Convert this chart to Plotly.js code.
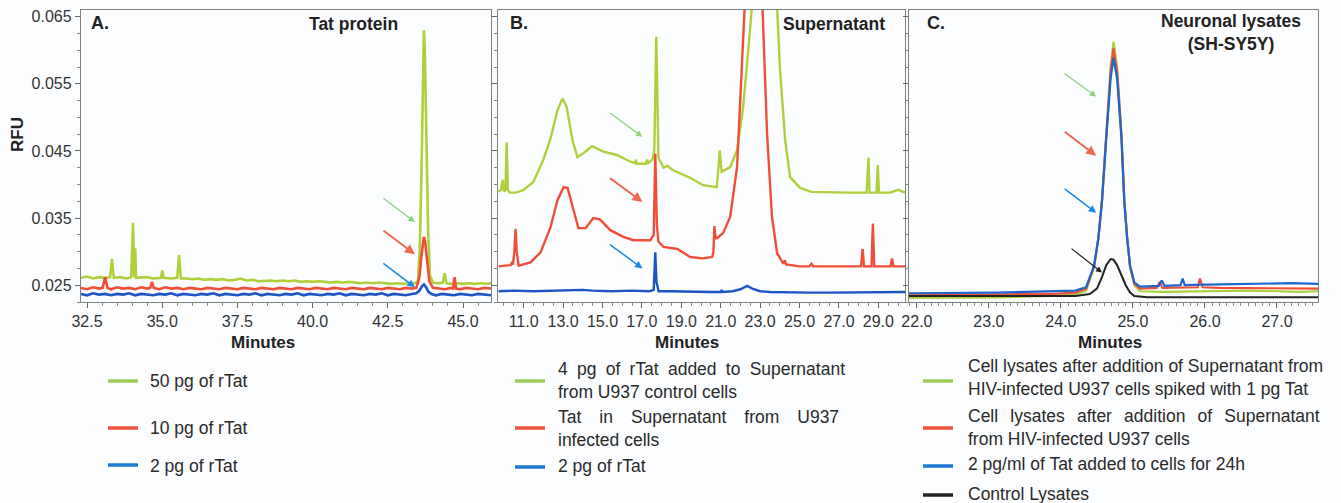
<!DOCTYPE html>
<html>
<head>
<meta charset="utf-8">
<script src="https://cdn.plot.ly/plotly-3.0.1.min.js"></script>
<style>
html,body{margin:0;padding:0;background:#fcfdfe;}
#chart{width:1341px;height:503px;}
</style>
</head>
<body>
<div id="chart"></div>
<script>
// ---------- Panel A: Tat protein ----------
const aGreenX = [32.3,32.5,32.7,32.9,33.1,33.27,33.33,33.39,33.6,33.8,33.97,34.03,34.07,34.1,34.13,34.3,34.5,34.7,34.9,34.96,35.0,35.05,35.3,35.5,35.56,35.62,35.8,36.0,36.2,36.4,36.6,36.8,37.0,37.2,37.4,37.6,37.8,38.0,38.2,38.4,38.6,38.8,39.0,39.2,39.4,39.6,39.8,40.0,40.2,40.4,40.6,40.8,41.0,41.2,41.4,41.6,41.8,42.0,42.2,42.4,42.6,42.8,43.0,43.2,43.4,43.5,43.56,43.62,43.67,43.7,43.73,43.78,43.84,43.9,44.0,44.2,44.33,44.39,44.45,44.6,44.8,45.0,45.2,45.4,45.6,45.8,45.93];
const aGreenY = [0.0261,0.0263,0.0260,0.0262,0.0261,0.0262,0.0289,0.0261,0.0262,0.0260,
  0.0262,0.0343,0.0262,0.0305,0.0261,0.0261,0.0262,0.0260,0.0261,0.0261,
  0.0272,0.0261,0.0260,0.0261,0.0295,0.0260,0.0260,0.0259,0.0260,0.0258,
  0.0259,0.0258,0.0259,0.0257,0.0258,0.0260,0.0257,0.0258,0.0256,0.0257,
  0.0257,0.0256,0.0257,0.0256,0.0257,0.0255,0.0256,0.0255,0.0256,0.0255,
  0.0254,0.0255,0.0254,0.0255,0.0254,0.0253,0.0254,0.0253,0.0254,0.0253,
  0.0252,0.0253,0.0252,0.0253,0.0253,0.0256,0.0300,0.0420,0.0560,0.0630,
  0.0600,0.0480,0.0330,0.0265,0.0254,0.0253,0.0254,0.0268,0.0253,0.0252,
  0.0253,0.0252,0.0253,0.0252,0.0253,0.0252,0.0253];

const aRedX = [32.3,32.5,32.7,32.9,33.02,33.1,33.18,33.3,33.5,33.7,33.9,34.1,34.3,34.5,34.6,34.66,34.72,34.9,35.1,35.3,35.5,35.7,35.9,36.1,36.3,36.5,36.7,36.9,37.1,37.3,37.5,37.7,37.9,38.1,38.3,38.5,38.7,38.9,39.1,39.3,39.5,39.7,39.9,40.1,40.3,40.5,40.7,40.9,41.1,41.3,41.5,41.7,41.9,42.1,42.3,42.5,42.7,42.9,43.1,43.3,43.45,43.55,43.62,43.67,43.7,43.74,43.8,43.88,44.0,44.2,44.4,44.6,44.67,44.72,44.77,44.9,45.1,45.3,45.5,45.7,45.93];
const aRedY = [0.0246,0.0244,0.0247,0.0245,0.0246,0.0262,0.0246,0.0244,0.0247,0.0245,
  0.0246,0.0244,0.0247,0.0245,0.0246,0.0255,0.0246,0.0244,0.0247,0.0245,
  0.0246,0.0244,0.0246,0.0245,0.0244,0.0246,0.0245,0.0244,0.0246,0.0245,
  0.0244,0.0246,0.0245,0.0244,0.0246,0.0245,0.0244,0.0246,0.0245,0.0244,
  0.0246,0.0245,0.0244,0.0246,0.0245,0.0244,0.0246,0.0245,0.0244,0.0246,
  0.0245,0.0244,0.0246,0.0245,0.0244,0.0246,0.0245,0.0244,0.0246,0.0245,
  0.0246,0.0262,0.0295,0.0316,0.0322,0.0315,0.0285,0.0256,0.0246,0.0245,
  0.0244,0.0246,0.0245,0.0262,0.0245,0.0244,0.0246,0.0245,0.0244,0.0246,0.0245];

const aBlueX = [32.3,32.5,32.7,32.9,33.1,33.3,33.5,33.7,33.9,34.1,34.3,34.5,34.7,34.9,35.1,35.3,35.5,35.7,35.9,36.1,36.3,36.5,36.7,36.9,37.1,37.3,37.5,37.7,37.9,38.1,38.3,38.5,38.7,38.9,39.1,39.3,39.5,39.7,39.9,40.1,40.3,40.5,40.7,40.9,41.1,41.3,41.5,41.7,41.9,42.1,42.3,42.5,42.7,42.9,43.1,43.3,43.45,43.55,43.63,43.7,43.77,43.85,43.95,44.1,44.3,44.5,44.7,44.9,45.1,45.3,45.5,45.7,45.93];
const aBlueY = [0.0237,0.0235,0.0238,0.0236,0.0237,0.0235,0.0237,0.0236,0.0238,0.0235,
  0.0237,0.0236,0.0235,0.0237,0.0236,0.0238,0.0235,0.0237,0.0236,0.0235,
  0.0237,0.0236,0.0238,0.0235,0.0237,0.0236,0.0235,0.0237,0.0236,0.0238,
  0.0235,0.0237,0.0236,0.0235,0.0237,0.0236,0.0238,0.0235,0.0237,0.0236,
  0.0235,0.0237,0.0236,0.0238,0.0235,0.0237,0.0236,0.0235,0.0237,0.0236,
  0.0238,0.0235,0.0237,0.0236,0.0235,0.0237,
  0.0238,0.0242,0.0248,0.0251,0.0247,0.0240,0.0237,
  0.0235,0.0237,0.0236,0.0235,0.0237,0.0236,0.0235,0.0237,0.0236,0.0235];

// ---------- Panel B: Supernatant ----------
const bGreenX = [9.73,9.85,9.94,10.0,10.08,10.14,10.2,10.3,10.6,11.0,11.5,12.0,12.37,12.72,12.97,13.18,13.48,13.73,14.05,14.47,15.05,15.73,16.42,16.65,16.7,16.75,17.2,17.27,17.33,17.53,17.63,17.7,17.73,17.77,17.84,18.1,18.3,18.54,19.0,19.45,20.1,20.8,20.9,20.95,21.05,21.48,21.83,22.14,22.4,22.6,23.0,23.2,23.5,23.86,24.0,24.27,24.52,25.03,25.6,26.5,27.5,28.4,28.5,28.55,28.9,28.97,29.03,29.6,30.0,30.35];
const bGreenY = [0.0389,0.0392,0.0407,0.0390,0.0392,0.0463,0.0392,0.0388,0.0388,0.0392,
  0.0404,0.0437,0.0469,0.0511,0.0528,0.0516,0.0466,0.0441,0.0447,0.0457,
  0.0449,0.0444,0.0434,0.0432,0.0437,0.0431,0.0431,0.0437,0.0432,0.0437,
  0.0450,0.0600,0.0620,0.0560,0.0440,0.0425,0.0428,0.0422,0.0416,0.0410,
  0.0399,0.0396,0.0430,0.0451,0.0419,0.0426,0.0451,0.0516,0.0601,0.0680,
  0.0850,0.0880,0.0800,0.0665,0.0575,0.0466,0.0411,0.0395,0.0389,0.0388,
  0.0388,0.0388,0.0440,0.0388,0.0388,0.0429,0.0388,0.0388,0.0392,0.0388];

const bRedX = [9.73,10.2,10.34,10.4,10.46,10.53,10.59,10.65,10.75,11.35,11.86,12.37,12.72,13.03,13.23,13.53,13.78,14.14,14.54,14.87,15.4,16.06,16.57,17.43,17.6,17.68,17.76,17.84,18.1,18.8,19.45,20.1,20.57,20.63,20.68,20.74,20.82,21.13,21.48,21.83,22.08,22.24,22.5,22.7,22.9,23.1,23.35,23.6,23.86,24.17,24.25,24.32,25.0,25.5,25.6,25.7,26.5,27.5,28.12,28.2,28.27,28.65,28.72,28.79,29.62,29.69,29.76,30.35];
const bRedY = [0.0278,0.0279,0.0280,0.0283,0.0281,0.0300,0.0334,0.0300,0.0279,0.0284,
  0.0299,0.0337,0.0377,0.0396,0.0395,0.0362,0.0335,0.0335,0.0350,0.0348,
  0.0332,0.0322,0.0317,0.0317,0.0325,0.0446,0.0340,0.0315,0.0307,0.0304,
  0.0292,0.0290,0.0292,0.0300,0.0338,0.0320,0.0320,0.0328,0.0352,0.0426,
  0.0575,0.0680,0.0900,0.0950,0.0900,0.0680,0.0477,0.0352,0.0298,0.0282,
  0.0287,0.0281,0.0278,0.0278,0.0282,0.0278,0.0278,0.0278,0.0278,0.0304,
  0.0278,0.0278,0.0342,0.0278,0.0278,0.0290,0.0278,0.0278];

const bBlueX = [9.73,10.5,11.5,12.5,13.5,14.0,14.5,15.5,16.5,17.4,17.6,17.68,17.74,17.85,18.5,19.5,20.5,21.0,21.05,21.1,21.6,22.0,22.34,22.6,23.0,23.5,24.5,25.5,26.5,27.5,28.5,29.5,30.35];
const bBlueY = [0.0241,0.0242,0.0241,0.0242,0.0243,0.0243,0.0242,0.0241,0.0242,0.0241,
  0.0243,0.0299,0.0255,0.0241,0.0241,0.0240,0.0240,0.0240,0.0243,0.0240,
  0.0241,0.0244,0.0249,0.0245,0.0241,0.0240,0.0239,0.0239,0.0239,0.0239,
  0.0240,0.0239,0.0240];

// ---------- Panel C: Neuronal lysates ----------
const cGreenX = [21.89,22.3,22.7,23.1,23.5,23.9,24.2,24.35,24.46,24.52,24.57,24.63,24.69,24.73,24.78,24.84,24.88,24.92,24.96,25.02,25.1,25.4,25.8,26.2,26.6,27.0,27.3,27.57];
const cGreenY = [0.0231,0.0231,0.0232,0.0232,0.0233,0.0234,0.0236,0.0242,0.0277,0.0320,0.0377,0.0477,0.0575,0.0613,0.0575,0.0477,0.0377,0.0320,0.0277,0.0250,0.0241,0.0240,0.0241,0.0241,0.0242,0.0241,0.0240,0.0241];

const cRedX = [21.89,22.3,22.7,23.1,23.5,23.9,24.2,24.35,24.46,24.52,24.57,24.63,24.69,24.73,24.78,24.84,24.88,24.92,24.96,25.02,25.1,25.33,25.37,25.41,25.8,25.9,25.93,25.97,26.2,26.6,27.0,27.3,27.57];
const cRedY = [0.0235,0.0235,0.0236,0.0236,0.0237,0.0237,0.0239,0.0245,0.0278,0.0320,0.0376,0.0474,0.0568,0.0603,0.0568,0.0474,0.0376,0.0320,0.0278,0.0252,0.0245,0.0246,0.0255,0.0246,0.0247,0.0247,0.0260,0.0247,0.0246,0.0246,0.0245,0.0245,0.0245];

const cBlueX = [21.89,22.3,22.7,23.1,23.5,23.9,24.2,24.35,24.46,24.52,24.57,24.63,24.69,24.73,24.78,24.84,24.88,24.92,24.96,25.02,25.1,25.36,25.4,25.44,25.66,25.69,25.72,26.0,26.4,26.8,27.2,27.57];
const cBlueY = [0.0238,0.0238,0.0239,0.0239,0.0240,0.0241,0.0242,0.0247,0.0279,0.0320,0.0375,0.0470,0.0558,0.0589,0.0558,0.0470,0.0375,0.0320,0.0279,0.0254,0.0248,0.0249,0.0257,0.0249,0.0250,0.0260,0.0250,0.0251,0.0252,0.0252,0.0253,0.0252];

const cBlackX = [21.89,22.3,22.7,23.1,23.5,23.9,24.2,24.4,24.5,24.57,24.63,24.69,24.73,24.78,24.84,24.9,24.96,25.02,25.2,25.6,26.0,26.4,26.8,27.2,27.57];
const cBlackY = [0.0234,0.0234,0.0233,0.0233,0.0233,0.0233,0.0234,0.0237,0.0245,0.0262,0.0280,0.0289,0.0288,0.0280,0.0265,0.0250,0.0239,0.0234,0.0232,0.0232,0.0232,0.0233,0.0232,0.0232,0.0232];

// ---------- Labels ----------
const panelLetters = ['A.', 'B.', 'C.'];
const panelTitles = ['Tat protein', 'Supernatant', 'Neuronal lysates<br>(SH-SY5Y)'];
const xTitle = 'Minutes';
const yTitle = 'RFU';
const legendA = ['50 pg of rTat', '10 pg of rTat', '2 pg of rTat'];
const legendB = ['4 pg of rTat added to Supernatant<br>from U937 control cells',
                 'Tat in Supernatant from U937<br>infected cells',
                 '2 pg of rTat'];
const legendC = ['Cell lysates after addition of Supernatant from<br>HIV-infected U937 cells spiked with 1 pg Tat',
                 'Cell lysates after addition of Supernatant<br>from HIV-infected U937 cells',
                 '2 pg/ml of Tat added to cells for 24h',
                 'Control Lysates'];

// ---------- Build ----------
const W = 1341, H = 503;
const fx = p => p / W;
const fy = p => 1 - p / H;

const GREEN = '#aed03c', RED = '#f04e38', BLUE = '#1d55c4', BLUE_C = '#1e66cc', BLACK = '#222222';
const LG_GREEN = '#9ccd5c', LG_RED = '#f0533d', LG_BLUE = '#1b7ad2';

function tr(x, y, xa, ya, color, w) {
  return {x: x, y: y, xaxis: xa, yaxis: ya, type: 'scatter', mode: 'lines',
          line: {color: color, width: w}, hoverinfo: 'skip', showlegend: false};
}
const data = [
  tr(aGreenX, aGreenY, 'x', 'y', GREEN, 2.6),
  tr(aRedX, aRedY, 'x', 'y', RED, 2.6),
  tr(aBlueX, aBlueY, 'x', 'y', BLUE, 2.6),
  tr(bGreenX, bGreenY, 'x2', 'y2', GREEN, 2.4),
  tr(bRedX, bRedY, 'x2', 'y2', RED, 2.4),
  tr(bBlueX, bBlueY, 'x2', 'y2', BLUE, 2.4),
  tr(cGreenX, cGreenY, 'x3', 'y3', GREEN, 2.2),
  tr(cRedX, cRedY, 'x3', 'y3', RED, 2.2),
  tr(cBlueX, cBlueY, 'x3', 'y3', BLUE_C, 2.2),
  tr(cBlackX, cBlackY, 'x3', 'y3', BLACK, 2.0)
];

const FONT = 'Liberation Sans, Arial, sans-serif';
const yDom = [fy(302), fy(10)];
const yRange = [0.0225, 0.0660];

function xax(dom, range, tick0, dtick, minor) {
  return {domain: dom, range: range, tick0: tick0, dtick: dtick, tickformat: '.1f',
          showline: true, mirror: true, linecolor: '#808080', linewidth: 1.2,
          ticks: 'outside', ticklen: 5, tickwidth: 1, tickcolor: '#666',
          minor: {ticks: 'outside', ticklen: 3, tickcolor: '#888', dtick: minor},
          showgrid: false, zeroline: false, automargin: false, fixedrange: true,
          tickfont: {family: FONT, size: 16, color: '#333'}};
}
function yax(anchor, labels) {
  return {domain: yDom, range: yRange, anchor: anchor, tick0: 0.025, dtick: 0.01,
          tickformat: '.3f', showticklabels: labels,
          showline: true, mirror: true, linecolor: '#808080', linewidth: 1.2,
          ticks: 'outside', ticklen: 5, tickwidth: 1, tickcolor: '#666',
          minor: {ticks: 'outside', ticklen: 3, tickcolor: '#888', dtick: 0.0025},
          showgrid: false, zeroline: false, automargin: false, fixedrange: true,
          tickfont: {family: FONT, size: 16, color: '#333'}};
}

const annotations = [];
const shapes = [];
function txt(text, x, y, opts) {
  annotations.push(Object.assign({text: text, x: fx(x), y: fy(y), xref: 'paper', yref: 'paper',
    showarrow: false, xanchor: 'center', yanchor: 'middle',
    font: {family: FONT, size: 17.5, color: '#2a2a2a'}}, opts || {}));
}
const bold = s => '<b>' + s + '</b>';

// panel letters & titles
txt(bold(panelLetters[0]), 89, 23, {xanchor: 'left', font: {family: FONT, size: 18, color: '#222'}});
txt(bold(panelLetters[1]), 508, 23, {xanchor: 'left', font: {family: FONT, size: 18, color: '#222'}});
txt(bold(panelLetters[2]), 925, 23, {xanchor: 'left', font: {family: FONT, size: 18, color: '#222'}});
txt(bold(panelTitles[0]), 353, 24, {font: {family: FONT, size: 17.5, color: '#222'}});
txt(bold(panelTitles[1]), 834, 24, {font: {family: FONT, size: 17.5, color: '#222'}});
txt(bold('Neuronal lysates') + '<br>' + bold('(SH-SY5Y)'), 1231, 32, {font: {family: FONT, size: 17.5, color: '#222'}});

// axis titles
txt(bold(xTitle), 263, 342, {font: {family: FONT, size: 17, color: '#222'}});
txt(bold(xTitle), 687, 342, {font: {family: FONT, size: 17, color: '#222'}});
txt(bold(xTitle), 1110, 342, {font: {family: FONT, size: 17, color: '#222'}});
txt(bold(yTitle), 17, 135, {textangle: -90, font: {family: FONT, size: 17, color: '#222'}});

// arrows
function arrow(xref, yref, x, y, color, w, ax, ay) {
  annotations.push({x: x, y: y, xref: xref, yref: yref, text: '', showarrow: true,
    ax: ax, ay: ay, arrowhead: 2, arrowsize: 1, arrowwidth: w, arrowcolor: color, standoff: 0});
}
arrow('x', 'y', 43.40, 0.0344, '#8fd27e', 1.3, -33, -25);
arrow('x', 'y', 43.40, 0.0296, '#f06a52', 2.0, -33, -25);
arrow('x', 'y', 43.40, 0.0247, '#1c8ae0', 1.5, -33, -25);
arrow('x2', 'y2', 17.03, 0.0471, '#8fd27e', 1.3, -34, -25);
arrow('x2', 'y2', 17.03, 0.0374, '#f06a52', 2.0, -34, -25);
arrow('x2', 'y2', 17.03, 0.0275, '#1c8ae0', 1.5, -34, -25);
arrow('x3', 'y3', 24.49, 0.0531, '#8fd27e', 1.3, -33, -24);
arrow('x3', 'y3', 24.49, 0.0443, '#f06a52', 2.0, -33, -25);
arrow('x3', 'y3', 24.49, 0.0358, '#1c8ae0', 1.5, -33, -25);
arrow('x3', 'y3', 24.57, 0.0269, '#222222', 1.2, -32, -25);

// legends
function legLine(x0, y, color) {
  shapes.push({type: 'line', xref: 'paper', yref: 'paper', x0: fx(x0), x1: fx(x0 + 30),
    y0: fy(y), y1: fy(y), line: {color: color, width: 3.5}});
}
const legOpts = {xanchor: 'left', align: 'left', font: {family: FONT, size: 17.5, color: '#2a2a2a'}};
const sp1 = ' \u2005', sp2 = ' \u2002\u2005', sp3 = ' \u2004\u200A';
legLine(108, 381, LG_GREEN); txt(legendA[0], 148, 381, legOpts);
legLine(108, 428, LG_RED);   txt(legendA[1], 148, 428, legOpts);
legLine(108, 465, LG_BLUE);  txt(legendA[2], 148, 466, legOpts);

const jB1 = legendB[0].split('<br>');
const jB2 = legendB[1].split('<br>');
legLine(515, 381, LG_GREEN); txt(jB1[0].split(' ').join(sp1) + '<br>' + jB1[1], 556, 380, legOpts);
legLine(515, 428, LG_RED);   txt(jB2[0].split(' ').join(sp2) + '<br>' + jB2[1], 556, 428, legOpts);
legLine(515, 467, LG_BLUE);  txt(legendB[2], 556, 466, legOpts);

const jC2 = legendC[1].split('<br>');
legLine(923, 381, LG_GREEN); txt(legendC[0], 966, 377, legOpts);
legLine(923, 428, LG_RED);   txt(jC2[0].split(' ').join(sp3) + '<br>' + jC2[1], 966, 427, legOpts);
legLine(923, 466, LG_BLUE);  txt(legendC[2], 966, 464, legOpts);
legLine(923, 495, BLACK);    txt(legendC[3], 966, 494, legOpts);

const layout = {
  width: W, height: H,
  margin: {l: 0, r: 0, t: 0, b: 0, pad: 0},
  paper_bgcolor: '#fcfdfe', plot_bgcolor: '#fcfdff',
  showlegend: false,
  font: {family: FONT, color: '#333'},
  xaxis: Object.assign(xax([fx(81), fx(491)], [32.3, 45.93], 32.5, 2.5, 0.5), {anchor: 'y'}),
  xaxis2: Object.assign(xax([fx(498), fx(905)], [9.7, 30.35], 11, 2, 0.5), {anchor: 'y2'}),
  xaxis3: Object.assign(xax([fx(909), fx(1318)], [21.89, 27.57], 22, 1, 0.1), {anchor: 'y3'}),
  yaxis: yax('x', true),
  yaxis2: yax('x2', false),
  yaxis3: yax('x3', false),
  annotations: annotations,
  shapes: shapes
};

Plotly.newPlot('chart', data, layout, {displayModeBar: false, staticPlot: true});
</script>
</body>
</html>
